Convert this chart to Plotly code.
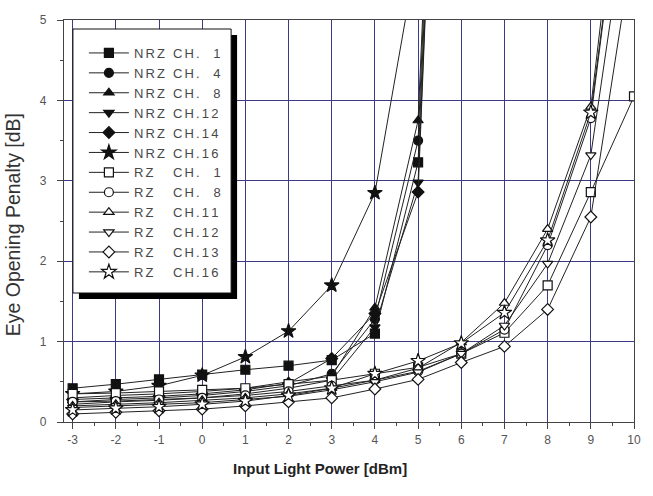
import plotly.graph_objects as go

x_vals = [-3, -2, -1, 0, 1, 2, 3, 4, 5, 6, 7, 8, 9, 10]
x_tick_labels = ["-3", "-2", "-1", "0", "1", "2", "3", "4", "5", "6", "7", "8", "9", "10"]
y_tick_vals = [0, 1, 2, 3, 4, 5]

# NRZ series (x from -3 to 6; last points run off the top of the chart)
nrz_x = [-3, -2, -1, 0, 1, 2, 3, 4, 5, 6]
nrz_ch1 = [0.42, 0.47, 0.53, 0.59, 0.65, 0.70, 0.77, 1.10, 3.23, 16.0]
nrz_ch4 = [0.25, 0.28, 0.30, 0.33, 0.38, 0.45, 0.60, 1.28, 3.50, 16.0]
nrz_ch8 = [0.30, 0.33, 0.35, 0.38, 0.42, 0.50, 0.57, 1.42, 3.75, 16.0]
nrz_ch12 = [0.22, 0.25, 0.27, 0.30, 0.35, 0.42, 0.52, 1.18, 2.98, 16.0]
nrz_ch14 = [0.28, 0.30, 0.32, 0.35, 0.40, 0.48, 0.79, 1.35, 2.86, 16.0]
nrz16_x = [-3, -2, -1, 0, 1, 2, 3, 4, 5]
nrz_ch16 = [0.35, 0.38, 0.45, 0.58, 0.81, 1.13, 1.70, 2.85, 5.9]

# RZ series
rz_x = [-3, -2, -1, 0, 1, 2, 3, 4, 5, 6, 7, 8, 9, 10]
rz_ch1 = [0.35, 0.36, 0.38, 0.40, 0.42, 0.47, 0.52, 0.60, 0.68, 0.85, 1.11, 1.70, 2.86, 4.05]
rz_ch8 = [0.25, 0.26, 0.28, 0.30, 0.33, 0.38, 0.45, 0.52, 0.63, 0.85, 1.15, 2.20, 3.78, 8.0]
rz_ch11 = [0.20, 0.22, 0.24, 0.27, 0.30, 0.35, 0.42, 0.52, 0.67, 0.99, 1.48, 2.40, 3.92, 8.5]
rz_ch12 = [0.18, 0.20, 0.22, 0.24, 0.28, 0.32, 0.40, 0.50, 0.62, 0.85, 1.20, 1.97, 3.32, 7.0]
rz_ch13 = [0.10, 0.12, 0.14, 0.16, 0.20, 0.25, 0.30, 0.41, 0.53, 0.74, 0.94, 1.40, 2.55, 6.0]
rz_ch16 = [0.15, 0.17, 0.19, 0.22, 0.26, 0.33, 0.42, 0.60, 0.76, 0.98, 1.36, 2.26, 3.85, 8.0]

series_names = ["NRZ CH.  1", "NRZ CH.  4", "NRZ CH.  8", "NRZ CH.12", "NRZ CH.14", "NRZ CH.16",
                "RZ   CH.  1", "RZ   CH.  8", "RZ   CH.11", "RZ   CH.12", "RZ   CH.13", "RZ   CH.16"]
series_x = [nrz_x] * 5 + [nrz16_x] + [rz_x] * 6
series_y = [nrz_ch1, nrz_ch4, nrz_ch8, nrz_ch12, nrz_ch14, nrz_ch16,
            rz_ch1, rz_ch8, rz_ch11, rz_ch12, rz_ch13, rz_ch16]
symbols = ["square", "circle", "triangle-up", "triangle-down", "diamond", "star"] * 2
filled = [True] * 6 + [False] * 6


def spaced(s):
    # mimic the letter-spaced legend lettering
    return "\u200a\u200a".join(s)


fig = go.Figure()
for name, xs, ys, sym, fl in zip(series_names, series_x, series_y, symbols, filled):
    fig.add_trace(go.Scatter(
        x=xs, y=ys, name=spaced(name), mode="lines+markers",
        line=dict(color="#222222", width=1),
        marker=dict(symbol=sym, size=9 if sym != "star" else 11,
                    color="#111111" if fl else "white",
                    line=dict(color="#111111", width=1.2)),
    ))

# pixel geometry of plot area: left 64, right 637, top 20, bottom 422
PW, PH, L, B = 573.0, 402.0, 64.0, 422.0


def px(xp):
    return (xp - L) / PW


def py(yp):
    return (B - yp) / PH


grid_color = "#3b3b85"
fig.update_layout(
    width=653, height=496,
    margin=dict(l=64, r=16, t=20, b=74),
    paper_bgcolor="white", plot_bgcolor="white",
    font=dict(family="Liberation Sans, Arial", color="#555555"),
    showlegend=True,
    legend=dict(
        x=px(84), y=py(38), xanchor="left", yanchor="top",
        bgcolor="rgba(0,0,0,0)", borderwidth=0,
        font=dict(size=13, color="#484848", family="Liberation Sans, Arial"),
        tracegroupgap=0, itemwidth=40,
    ),
    xaxis=dict(
        range=[-3.2, 10], tickvals=x_vals, ticktext=x_tick_labels,
        showgrid=True, gridcolor=grid_color, gridwidth=1.3,
        showline=True, linecolor="#444444", linewidth=1.3, mirror=True,
        ticks="outside", ticklen=6, tickcolor="#444444",
        minor=dict(dtick=0.5, tick0=0, ticks="outside", ticklen=3, tickcolor="#444444", showgrid=False),
        tickfont=dict(size=12, color="#555555"),
        zeroline=False,
    ),
    yaxis=dict(
        range=[0, 5], tickvals=y_tick_vals,
        showgrid=True, gridcolor=grid_color, gridwidth=1.3,
        showline=True, linecolor="#444444", linewidth=1.3, mirror=True,
        ticks="outside", ticklen=6, tickcolor="#444444",
        minor=dict(dtick=0.5, tick0=0, ticks="outside", ticklen=3, tickcolor="#444444", showgrid=False),
        tickfont=dict(size=12, color="#555555"),
        ticklabelstandoff=8,
        zeroline=False,
    ),
    annotations=[
        dict(text="<b>Input Light Power [dBm]</b>", xref="paper", yref="paper",
             x=px(321), y=py(468), xanchor="center", yanchor="middle", showarrow=False,
             font=dict(size=15, color="#222222", family="Liberation Sans, Arial")),
        dict(text="Eye Opening Penalty [dB]", xref="paper", yref="paper",
             x=px(13), y=py(225), xanchor="center", yanchor="middle", showarrow=False,
             textangle=-90,
             font=dict(size=19.5, color="#333333", family="Liberation Sans, Arial")),
    ],
    shapes=[
        dict(type="rect", xref="paper", yref="paper",
             x0=px(79), x1=px(238), y0=py(299), y1=py(35),
             fillcolor="#000000", line=dict(width=0), layer="above"),
        dict(type="rect", xref="paper", yref="paper",
             x0=px(73), x1=px(232), y0=py(293), y1=py(29),
             fillcolor="white", line=dict(width=1, color="#111111"), layer="above"),
    ],
)

fig.write_html("out.html")
